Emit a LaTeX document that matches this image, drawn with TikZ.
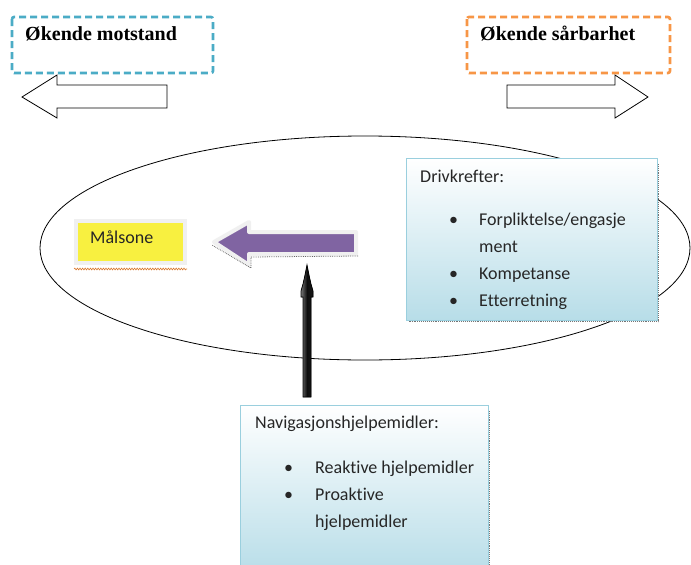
\documentclass[tikz,border=0pt]{standalone}
\usepackage{fontspec}
\setmainfont{Liberation Serif}
\newfontfamily\calfont[Ligatures=NoCommon]{Carlito}
\usetikzlibrary{decorations.pathmorphing}
\definecolor{tealc}{HTML}{4BACC6}
\definecolor{orangec}{HTML}{F79646}
\definecolor{boxblue}{HTML}{B7DDE8}
\definecolor{boxedge}{HTML}{9ACFDE}
\definecolor{yellowc}{HTML}{F8F040}
\definecolor{purplec}{HTML}{8064A2}
\definecolor{wavec}{HTML}{D9782E}
\begin{document}
\begin{tikzpicture}[x=1pt,y=-1pt,
  sans/.style={font=\calfont\fontsize{18}{21}\selectfont, inner sep=0pt, anchor=base west, text=black!85},
  titletext/.style={font=\bfseries\fontsize{20}{24}\selectfont, inner sep=0pt, anchor=base west},
  dashbox/.style={line width=2.6pt, dash pattern=on 7pt off 4pt, rounded corners=2pt},
  hollowarrow/.style={draw=black, line width=0.8pt, fill=white},
  gradbox/.style={draw=boxedge, line width=0.8pt, top color=white, bottom color=boxblue, anchor=north west, inner sep=0pt},
  shadowline/.style={densely dotted, black!55, line width=1.1pt}
]
\clip (0,0) rectangle (691,565);
\fill[white] (0,0) rectangle (691,565);

% top dashed boxes
\draw[dashbox, tealc] (12,17) rectangle (213,73);
\node[titletext] (motstand) at (25,40) {Økende motstand};
\draw[dashbox, orangec] (467,17) rectangle (670,73);
\node[titletext] (sarbarhet) at (480,40) {Økende sårbarhet};

% hollow arrows
\coordinate (la) at (22,97);
\draw[hollowarrow] (la) -- (57,75) -- (57,85) -- (167,85) -- (167,108) -- (57,108) -- (57,118) -- cycle;
\coordinate (ra) at (648,97);
\draw[hollowarrow] (ra) -- (615,75) -- (615,85) -- (507,85) -- (507,108) -- (615,108) -- (615,118) -- cycle;

% ellipse
\draw[line width=0.8pt] (365,248) ellipse [x radius=325, y radius=112];

% Drivkrefter box
\node[gradbox, minimum width=251pt, minimum height=162pt] (driv) at (406,158) {};
\draw[shadowline] ([xshift=1pt,yshift=-6pt]driv.north east) -- ([xshift=1pt,yshift=-1pt]driv.south east) -- ([xshift=3pt,yshift=-1pt]driv.south west);
\node[sans] (drivt) at (420,182) {Drivkrefter:};
\node[sans] (b1) at (449,225) {•};
\node[sans] (d1) at (479,225) {Forpliktelse/engasje};
\node[sans] (d1b) at (479,252) {ment};
\node[sans] (b2) at (449,279) {•};
\node[sans] (d2) at (479,279) {Kompetanse};
\node[sans] (b3) at (449,306) {•};
\node[sans] (d3) at (479,306) {Etterretning};

% Malsone
\node[fill=yellowc, draw=gray!12, line width=4pt, minimum width=109pt, minimum height=42pt, anchor=north west, inner sep=0pt] (mal) at (74,219) {};
\node[sans] (malt) at (90,243) {Målsone};
\draw[wavec, line width=0.6pt, decorate, decoration={snake, amplitude=0.9pt, segment length=2.6pt}] ([yshift=-4pt]mal.south west) -- ([yshift=-4pt]mal.south east);

% purple arrow
\coordinate (ptip) at (214,242);
\draw[gray!12, line width=4pt, fill=purplec, line join=round] (ptip) -- (249,222) -- (249,232) -- (356,232) -- (356,254) -- (249,254) -- (249,265) -- cycle;
\draw[densely dotted, black!60, line width=0.8pt] (358,256) -- (251,257) -- (251,268) -- (212,245);

% navigation box
\node[gradbox, minimum width=248pt, minimum height=170pt] (nav) at (240,405) {};
\draw[shadowline] ([xshift=1pt,yshift=-6pt]nav.north east) -- ([xshift=1pt]nav.south east);
\node[sans] (navt) at (255,428) {Navigasjonshjelpemidler:};
\node[sans] (n1b) at (284,473) {•};
\node[sans] (n1) at (315,473) {Reaktive hjelpemidler};
\node[sans] (n2b) at (284,500) {•};
\node[sans] (n2) at (315,500) {Proaktive};
\node[sans] (n2c) at (315,527) {hjelpemidler};

% black vertical arrow
\coordinate (btip) at (307,265);
\filldraw[draw=black, line width=0.7pt, left color=black!55, right color=black!90, middle color=black!95]
  (btip) -- (309,275) -- (311,284) -- (313,291) -- (313,297) -- (311,297) -- (311,397) -- (303,397) -- (303,297) -- (301,297) -- (301,291) -- (303,284) -- (305,275) -- cycle;
\end{tikzpicture}
\end{document}
